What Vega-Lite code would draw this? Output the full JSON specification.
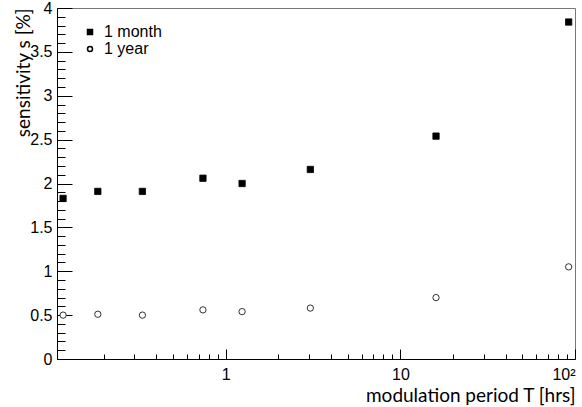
{
  "$schema": "https://vega.github.io/schema/vega-lite/v6.json",
  "width": 518,
  "height": 351,
  "autosize": {"type": "none"},
  "padding": {"left": 57, "top": 8, "right": 7, "bottom": 48},
  "background": "white",
  "config": {
    "view": {"stroke": "#777", "strokeWidth": 1},
    "axis": {
      "grid": false,
      "domainColor": "black",
      "tickColor": "black",
      "labelFont": "Liberation Sans",
      "labelFontSize": 16,
      "labelColor": "black",
      "titleFont": "Lato",
      "titleFontSize": 19,
      "titleFontWeight": "normal",
      "titleColor": "black"
    },
    "legend": {
      "orient": "none",
      "legendX": 25,
      "legendY": 16,
      "labelFont": "Liberation Sans",
      "labelFontSize": 16,
      "labelColor": "black",
      "rowPadding": 1,
      "symbolSize": 25,
      "labelOffset": 6
    }
  },
  "data": {
    "values": [
      {"T": 0.117, "s": 1.83, "series": "1 month"},
      {"T": 0.185, "s": 1.91, "series": "1 month"},
      {"T": 0.333, "s": 1.91, "series": "1 month"},
      {"T": 0.74, "s": 2.06, "series": "1 month"},
      {"T": 1.24, "s": 2.0, "series": "1 month"},
      {"T": 3.05, "s": 2.16, "series": "1 month"},
      {"T": 16, "s": 2.54, "series": "1 month"},
      {"T": 92, "s": 3.84, "series": "1 month"},
      {"T": 0.117, "s": 0.5, "series": "1 year"},
      {"T": 0.185, "s": 0.51, "series": "1 year"},
      {"T": 0.333, "s": 0.5, "series": "1 year"},
      {"T": 0.74, "s": 0.56, "series": "1 year"},
      {"T": 1.24, "s": 0.54, "series": "1 year"},
      {"T": 3.05, "s": 0.58, "series": "1 year"},
      {"T": 16, "s": 0.7, "series": "1 year"},
      {"T": 92, "s": 1.05, "series": "1 year"}
    ]
  },
  "resolve": {
    "scale": {"x": "independent", "y": "independent"},
    "axis": {"x": "independent", "y": "independent"}
  },
  "layer": [
    {
      "mark": {"type": "point", "filled": true, "stroke": "black", "strokeWidth": 0.8, "opacity": 1, "size": 40},
      "encoding": {
        "x": {
          "field": "T", "type": "quantitative",
          "scale": {"type": "log", "domain": [0.108, 100], "nice": false},
          "axis": {
            "orient": "bottom",
            "values": [1, 10, 100],
            "tickSize": -10,
            "labelPadding": 17,
            "labelExpr": "datum.value == 100 ? '10²' : format(datum.value, '~g')",
            "title": "modulation period T [hrs]",
            "titleAnchor": "end",
            "titlePadding": 4
          }
        },
        "y": {
          "field": "s", "type": "quantitative",
          "scale": {"domain": [0, 4], "nice": false, "zero": false},
          "axis": {
            "orient": "left",
            "values": [0, 0.5, 1, 1.5, 2, 2.5, 3, 3.5, 4],
            "tickSize": -15,
            "labelPadding": 20,
            "format": "~g",
            "title": "sensitivity s [%]",
            "titleAnchor": "end",
            "titlePadding": -4
          }
        },
        "fill": {"field": "series", "type": "nominal", "scale": {"domain": ["1 month", "1 year"], "range": ["black", "white"]}, "title": null,
          "legend": {"encode": {"symbols": {"update": {"stroke": {"value": "black"}, "strokeWidth": {"value": 1}}}}}},
        "shape": {"field": "series", "type": "nominal", "scale": {"domain": ["1 month", "1 year"], "range": ["square", "circle"]}, "title": null}
      }
    },
    {
      "mark": {"type": "point", "filled": true, "opacity": 0, "size": 1},
      "encoding": {
        "x": {
          "field": "T", "type": "quantitative",
          "scale": {"type": "log", "domain": [0.108, 100], "nice": false},
          "axis": {
            "orient": "bottom",
            "values": [0.2, 0.3, 0.4, 0.5, 0.6, 0.7, 0.8, 0.9, 2, 3, 4, 5, 6, 7, 8, 9, 20, 30, 40, 50, 60, 70, 80, 90],
            "tickSize": -5,
            "labels": false,
            "domain": false,
            "title": null
          }
        },
        "y": {
          "field": "s", "type": "quantitative",
          "scale": {"domain": [0, 4], "nice": false, "zero": false},
          "axis": {
            "orient": "left",
            "values": [0.1, 0.2, 0.3, 0.4, 0.6, 0.7, 0.8, 0.9, 1.1, 1.2, 1.3, 1.4, 1.6, 1.7, 1.8, 1.9, 2.1, 2.2, 2.3, 2.4, 2.6, 2.7, 2.8, 2.9, 3.1, 3.2, 3.3, 3.4, 3.6, 3.7, 3.8, 3.9],
            "tickSize": -8,
            "labels": false,
            "domain": false,
            "title": null
          }
        }
      }
    }
  ]
}
